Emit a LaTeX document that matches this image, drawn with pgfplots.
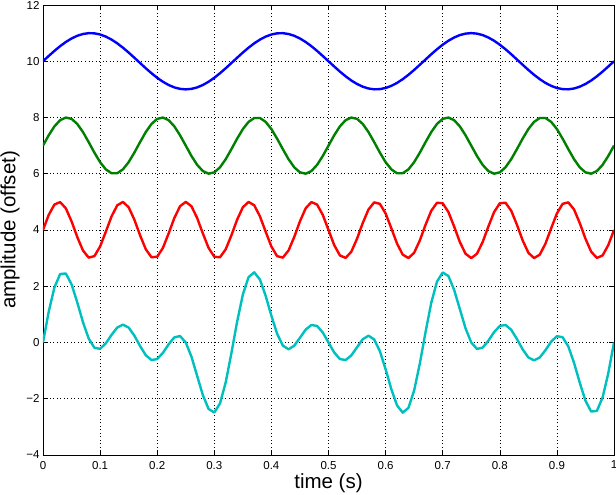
\documentclass[border=0pt]{standalone}
\usepackage{fontspec}
\setmainfont{Liberation Sans}
\usepackage{pgfplots}
\usepackage{pgfplotstable}
\pgfplotsset{compat=1.18}
\definecolor{mblue}{rgb}{0,0,1}
\definecolor{mgreen}{rgb}{0,0.5,0}
\definecolor{mred}{rgb}{1,0,0}
\definecolor{mcyan}{rgb}{0,0.75,0.75}
\pgfplotstableread{
t b g r c
0.00 10 7 4 0
0.01 10.187 7.368 4.536 1.091
0.02 10.368 7.685 4.905 1.958
0.03 10.536 7.905 4.992 2.433
0.04 10.685 7.998 4.771 2.454
0.05 10.809 7.951 4.309 2.069
0.06 10.905 7.771 3.751 1.427
0.07 10.969 7.482 3.271 0.722
0.08 10.998 7.125 3.018 0.141
0.09 10.992 6.751 3.070 -0.187
0.10 10.951 6.412 3.412 -0.225
0.11 10.876 6.156 3.937 -0.031
0.12 10.771 6.018 4.482 0.271
0.13 10.637 6.018 4.876 0.531
0.14 10.482 6.156 4.998 0.636
0.15 10.309 6.412 4.809 0.530
0.16 10.125 6.751 4.368 0.244
0.17 9.937 7.125 3.813 -0.125
0.18 9.751 7.482 3.315 -0.452
0.19 9.574 7.771 3.031 -0.624
0.20 9.412 7.951 3.049 -0.588
0.21 9.271 7.998 3.363 -0.368
0.22 9.156 7.905 3.875 -0.064
0.23 9.070 7.685 4.426 0.181
0.24 9.018 7.368 4.844 0.230
0.25 9 7 5 0
0.26 9.018 6.632 4.844 -0.506
0.27 9.070 6.315 4.426 -1.189
0.28 9.156 6.095 3.875 -1.874
0.29 9.271 6.002 3.363 -2.364
0.30 9.412 6.049 3.049 -2.490
0.31 9.574 6.229 3.031 -2.166
0.32 9.751 6.518 3.315 -1.416
0.33 9.937 6.875 3.813 -0.375
0.34 10.125 7.249 4.368 0.742
0.35 10.309 7.588 4.809 1.706
0.36 10.482 7.844 4.998 2.324
0.37 10.637 7.982 4.876 2.495
0.38 10.771 7.982 4.482 2.235
0.39 10.876 7.844 3.937 1.657
0.40 10.951 7.588 3.412 0.951
0.41 10.992 7.249 3.070 0.311
0.42 10.998 6.875 3.018 -0.109
0.43 10.969 6.518 3.271 -0.242
0.44 10.905 6.229 3.751 -0.115
0.45 10.809 6.049 4.309 0.167
0.46 10.685 6.002 4.771 0.458
0.47 10.536 6.095 4.992 0.623
0.48 10.368 6.315 4.905 0.588
0.49 10.187 6.632 4.536 0.355
0.50 10 7 4 0
0.51 9.813 7.368 3.464 -0.355
0.52 9.632 7.685 3.095 -0.588
0.53 9.464 7.905 3.008 -0.623
0.54 9.315 7.998 3.229 -0.458
0.55 9.191 7.951 3.691 -0.167
0.56 9.095 7.771 4.249 0.115
0.57 9.031 7.482 4.729 0.242
0.58 9.002 7.125 4.982 0.109
0.59 9.008 6.751 4.930 -0.311
0.60 9.049 6.412 4.588 -0.951
0.61 9.124 6.156 4.063 -1.657
0.62 9.229 6.018 3.518 -2.235
0.63 9.363 6.018 3.124 -2.495
0.64 9.518 6.156 3.002 -2.324
0.65 9.691 6.412 3.191 -1.706
0.66 9.875 6.751 3.632 -0.742
0.67 10.063 7.125 4.187 0.375
0.68 10.249 7.482 4.685 1.416
0.69 10.426 7.771 4.969 2.166
0.70 10.588 7.951 4.951 2.490
0.71 10.729 7.998 4.637 2.364
0.72 10.844 7.905 4.125 1.874
0.73 10.930 7.685 3.574 1.189
0.74 10.982 7.368 3.156 0.506
0.75 11 7 3 0
0.76 10.982 6.632 3.156 -0.230
0.77 10.930 6.315 3.574 -0.181
0.78 10.844 6.095 4.125 0.064
0.79 10.729 6.002 4.637 0.368
0.80 10.588 6.049 4.951 0.588
0.81 10.426 6.229 4.969 0.624
0.82 10.249 6.518 4.685 0.452
0.83 10.063 6.875 4.187 0.125
0.84 9.875 7.249 3.632 -0.244
0.85 9.691 7.588 3.191 -0.530
0.86 9.518 7.844 3.002 -0.636
0.87 9.363 7.982 3.124 -0.531
0.88 9.229 7.982 3.518 -0.271
0.89 9.124 7.844 4.063 0.031
0.90 9.049 7.588 4.588 0.225
0.91 9.008 7.249 4.930 0.187
0.92 9.002 6.875 4.982 -0.141
0.93 9.031 6.518 4.729 -0.722
0.94 9.095 6.229 4.249 -1.427
0.95 9.191 6.049 3.691 -2.069
0.96 9.315 6.002 3.229 -2.454
0.97 9.464 6.095 3.008 -2.433
0.98 9.632 6.315 3.095 -1.958
0.99 9.813 6.632 3.464 -1.091
1.00 10 7 4 0
}\datatable
\begin{document}
\begin{tikzpicture}
\begin{axis}[
  scale only axis, width=571pt, height=450pt,
  xmin=0, xmax=1, ymin=-4, ymax=12,
  xtick={0,0.1,0.2,0.3,0.4,0.5,0.6,0.7,0.8,0.9,1},
  xticklabels={0,0.1,0.2,0.3,0.4,0.5,0.6,0.7,0.8,0.9,1},
  ytick={-4,-2,0,2,4,6,8,10,12},
  yticklabels={−4,−2,0,2,4,6,8,10,12},
  grid=major,
  major grid style={black, line width=0.5pt, dash pattern=on 1pt off 2.5pt},
  tick align=inside, major tick length=5pt,
  tick style={black, line width=0.5pt},
  axis line style={black, line width=0.8pt},
  ticklabel style={font=\fontsize{11.5}{13}\selectfont},
  xticklabel style={yshift=-2.5pt},
  xlabel={time (s)}, ylabel={amplitude (offset)},
  label style={font=\fontsize{20.5}{24}\selectfont},
  xlabel style={at={(axis description cs:0.5,-0.0633)}, anchor=center},
  ylabel style={at={(axis description cs:-0.0578,0.5)}, anchor=center},
  every axis plot/.append style={line width=2.4pt, line join=round},
]
\addplot[mblue, no markers] table[x=t, y=b] {\datatable};
\addplot[mgreen, no markers] table[x=t, y=g] {\datatable};
\addplot[mred, no markers] table[x=t, y=r] {\datatable};
\addplot[mcyan, no markers] table[x=t, y=c] {\datatable};
\coordinate (sw) at (rel axis cs:0,0);
\coordinate (ne) at (rel axis cs:1,1);
\end{axis}
\pgfresetboundingbox
\path[use as bounding box] ([shift={(-43pt,-40pt)}]sw) rectangle ([shift={(2pt,5pt)}]ne);
\end{tikzpicture}
\end{document}
